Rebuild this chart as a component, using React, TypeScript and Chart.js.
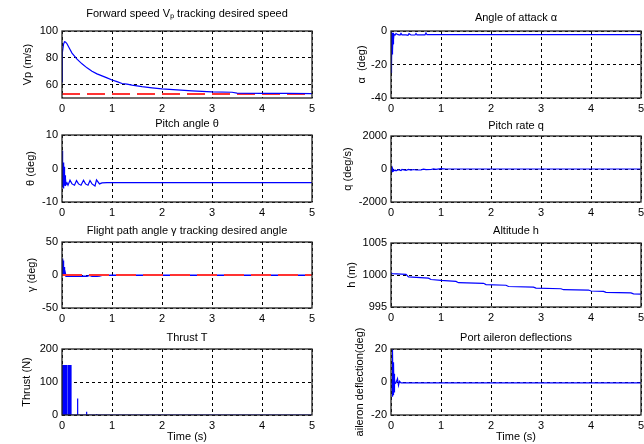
import React, { useEffect, useRef } from "react";
import { Chart, registerables } from "chart.js";

Chart.register(...registerables);

// ---------- data ----------
const timeTicks = [0, 1, 2, 3, 4, 5];

const vpTime = [0, 0.005, 0.01, 0.03, 0.05, 0.07, 0.1, 0.15, 0.2, 0.3, 0.4, 0.5, 0.6, 0.7, 0.8, 0.9, 1.0, 1.1, 1.2, 1.3, 1.4, 1.6, 1.8, 2.0, 2.3, 2.6, 3.0, 3.4, 3.5, 4.0, 4.5, 5.0];
const vpValues = [62, 75, 84, 90, 92, 91.8, 90.5, 87, 83.5, 79, 75.5, 72.5, 70, 68, 66.5, 65, 63.4, 62.2, 60.8, 60.3, 59.6, 58.5, 57.6, 56.8, 56, 55.3, 54.6, 54.3, 53.7, 53.5, 53.4, 53.3];
const vpDesiredTime = [0, 5];
const vpDesired = [53, 53];
const vpTicks = [60, 80, 100];

const alphaTime = [0, 0.005, 0.01, 0.015, 0.02, 0.025, 0.03, 0.035, 0.04, 0.045, 0.05, 0.055, 0.06, 0.08, 0.1, 0.14, 0.18, 0.2, 0.22, 0.3, 0.34, 0.36, 0.4, 0.48, 0.5, 0.52, 0.6, 0.68, 0.7, 0.72, 0.8, 5];
const alphaValues = [0, -25, -1, -20, -2, -14, -1, -12, -3, -8, -1, -5, -2, -2.5, -1.5, -2.2, -2.4, -1.4, -2.3, -2.3, -2.6, -1.6, -2.4, -2.4, -1.5, -2.3, -2.3, -2.3, -1.2, -2.2, -2.2, -2.2];
const alphaTicks = [-40, -20, 0];

const thetaTime = [0, 0.006, 0.012, 0.018, 0.024, 0.03, 0.036, 0.042, 0.048, 0.054, 0.06, 0.066, 0.072, 0.08, 0.1, 0.12, 0.16, 0.2, 0.25, 0.29, 0.33, 0.38, 0.43, 0.47, 0.52, 0.56, 0.6, 0.66, 0.69, 0.75, 0.8, 0.9, 5];
const thetaValues = [5.3, -5.6, 4.5, -5, 1.8, -6, 1, -5, 0.5, -4.5, -2, -5.2, -3, -4.8, -4.3, -5, -3.5, -4.6, -5, -3.6, -4.6, -5, -3.5, -4.6, -5, -3.6, -4.6, -5.2, -3.4, -4.6, -4.3, -4.2, -4.2];
const thetaTicks = [-10, 0, 10];

const qTime = [0, 0.01, 0.02, 0.03, 0.05, 0.08, 0.1, 0.15, 0.2, 0.22, 0.3, 0.35, 0.4, 0.45, 0.5, 0.6, 0.65, 0.7, 0.8, 0.85, 0.9, 1.0, 1.1, 1.2, 5];
const qValues = [-150, 60, -160, 40, -120, -60, -110, -40, -90, -30, -80, -20, -70, -30, -60, -50, -10, -40, -30, 10, -20, 20, 0, 0, 0];
const qTicks = [-2000, 0, 2000];

const gammaTime = [0, 0.01, 0.015, 0.02, 0.03, 0.04, 0.05, 0.06, 0.08, 0.1, 0.2, 0.3, 0.4, 0.5, 0.55, 0.6, 0.7, 0.75, 0.8, 1.0, 5];
const gammaValues = [0, 25, 2, 22, 0, 12, -1, 5, -2, -2, -2, -2, -2, -2, -0.5, -2, -2, -1.5, -0.5, -0.3, -0.3];
const gammaDesiredTime = [0, 5];
const gammaDesired = [0, 0];
const gammaTicks = [-50, 0, 50];

const hTime = [0, 0.02, 0.3, 0.35, 0.75, 0.8, 1.0, 1.3, 1.35, 1.85, 1.9, 2.3, 2.35, 2.85, 2.9, 3.4, 3.45, 3.95, 4.0, 4.25, 4.3, 4.8, 4.85, 5];
const hValues = [1000.4, 1000.2, 1000.1, 999.7, 999.5, 999.3, 999.15, 999.0, 998.8, 998.7, 998.5, 998.4, 998.2, 998.1, 997.95, 997.85, 997.7, 997.65, 997.5, 997.45, 997.3, 997.2, 997.05, 997.0];
const hTicks = [995, 1000, 1005];

const thrustTime = [0, 0, 0.1, 0.1, 0.13, 0.13, 0.18, 0.18, 0.31, 0.31, 0.316, 0.49, 0.49, 0.496, 0.69, 0.69, 0.696, 5];
const thrustValues = [0, 150, 150, 0, 0, 150, 150, 0, 0, 50, 0, 0, 10, 0, 0, 3, 0, 0];
const thrustTicks = [0, 100, 200];

const aileronTime = [0, 0.02, 0.025, 0.03, 0.035, 0.04, 0.045, 0.05, 0.055, 0.06, 0.065, 0.07, 0.075, 0.08, 0.1, 0.13, 0.15, 0.17, 0.2, 0.25, 5];
const aileronValues = [0, 0, 20, -9, 19, -5, 12, -8, 12, -6, 5, -3, 2, -1, -0.5, 2, -2, 0.5, -0.5, -0.5, -0.5];
const aileronTicks = [-20, 0, 20];

// ---------- styling / layout ----------
const FONT = "'Liberation Sans', Arial, Helvetica, sans-serif";
const BLUE = "#0000ff";
const RED = "#ff3333";

type Series = { t: number[]; v: number[]; color: string; width: number; dash?: number[]; fill?: boolean };
type PanelSpec = {
  title: string;
  yLabel: string;
  yMin: number;
  yMax: number;
  yTicks: number[];
  series: Series[];
  left: number;
  top: number;
  height: number;
  titleGap: number;
  yLabelX: number;
  xLabel?: string;
};

const panels: PanelSpec[] = [
  {
    title: "Forward speed V\u209a tracking desired speed",
    yLabel: "Vp (m/s)", yMin: 50, yMax: 100, yTicks: vpTicks,
    series: [
      { t: vpTime, v: vpValues, color: BLUE, width: 1.2 },
      { t: vpDesiredTime, v: vpDesired, color: RED, width: 2, dash: [18, 7] },
    ],
    left: 62, top: 31, height: 67, titleGap: 17, yLabelX: 28,
  },
  {
    title: "Angle of attack \u03b1",
    yLabel: "\u03b1  (deg)", yMin: -40, yMax: 0, yTicks: alphaTicks,
    series: [{ t: alphaTime, v: alphaValues, color: BLUE, width: 1.2 }],
    left: 391, top: 31, height: 67, titleGap: 13, yLabelX: 362,
  },
  {
    title: "Pitch angle \u03b8",
    yLabel: "\u03b8 (deg)", yMin: -10, yMax: 10, yTicks: thetaTicks,
    series: [{ t: thetaTime, v: thetaValues, color: BLUE, width: 1.2 }],
    left: 62, top: 135, height: 67, titleGap: 11, yLabelX: 31,
  },
  {
    title: "Pitch rate q",
    yLabel: "q (deg/s)", yMin: -2000, yMax: 2000, yTicks: qTicks,
    series: [{ t: qTime, v: qValues, color: BLUE, width: 1.2 }],
    left: 391, top: 136, height: 66, titleGap: 10.5, yLabelX: 347.5,
  },
  {
    title: "Flight path angle \u03b3 tracking desired angle",
    yLabel: "\u03b3 (deg)", yMin: -50, yMax: 50, yTicks: gammaTicks,
    series: [
      { t: gammaDesiredTime, v: gammaDesired, color: RED, width: 2, dash: [20, 7] },
      { t: gammaTime, v: gammaValues, color: BLUE, width: 1.4 },
    ],
    left: 62, top: 242, height: 66, titleGap: 11, yLabelX: 32,
  },
  {
    title: "Altitude h",
    yLabel: "h (m)", yMin: 995, yMax: 1005, yTicks: hTicks,
    series: [{ t: hTime, v: hValues, color: BLUE, width: 1.2 }],
    left: 391, top: 243, height: 64, titleGap: 12.5, yLabelX: 352,
  },
  {
    title: "Thrust T",
    yLabel: "Thrust (N)", yMin: 0, yMax: 200, yTicks: thrustTicks,
    series: [{ t: thrustTime, v: thrustValues, color: BLUE, width: 1.2, fill: true }],
    left: 62, top: 349, height: 66, titleGap: 11.5, yLabelX: 27, xLabel: "Time (s)",
  },
  {
    title: "Port aileron deflections",
    yLabel: "aileron deflection(deg)", yMin: -20, yMax: 20, yTicks: aileronTicks,
    series: [{ t: aileronTime, v: aileronValues, color: BLUE, width: 1.2 }],
    left: 391, top: 349, height: 66, titleGap: 11.5, yLabelX: 360, xLabel: "Time (s)",
  },
];

const framePlugin = {
  id: "frame",
  afterDatasetsDraw(chart: any) {
    const { ctx, chartArea: a } = chart;
    ctx.save();
    ctx.strokeStyle = "#222";
    ctx.lineWidth = 1.3;
    ctx.setLineDash([]);
    ctx.strokeRect(a.left, a.top, a.right - a.left, a.bottom - a.top);
    ctx.restore();
  },
};

const AXIS_W = 62;
const PLOT_W = 250;
const RIGHT_PAD = 12;
const EXTRA_TOP = 14;

const plainNumber = (v: any) => String(v);

function Panel({ spec }: { spec: PanelSpec }) {
  const ref = useRef<HTMLCanvasElement>(null);
  const xH = spec.xLabel ? 30 : 20;
  const titleBlock = Math.round(spec.titleGap + 8.6);
  const titlePadBottom = titleBlock - 15.2;
  const width = AXIS_W + PLOT_W + RIGHT_PAD;
  const height = EXTRA_TOP + titleBlock + spec.height + xH;
  const left = spec.left - AXIS_W;
  const top = spec.top - titleBlock - EXTRA_TOP;

  useEffect(() => {
    const tickFont = { family: FONT, size: 11, weight: "normal" as const };
    const chart = new Chart(ref.current as HTMLCanvasElement, {
      type: "line",
      data: {
        datasets: spec.series.map((s) => ({
          data: s.t.map((x, i) => ({ x, y: s.v[i] })),
          borderColor: s.color,
          backgroundColor: s.color,
          borderWidth: s.width,
          borderDash: s.dash ?? [],
          pointRadius: 0,
          tension: 0,
          fill: s.fill ? "origin" : false,
        })),
      },
      options: {
        responsive: false,
        animation: false,
        layout: { padding: { top: EXTRA_TOP, left: 0, right: RIGHT_PAD, bottom: 0 } },
        plugins: {
          legend: { display: false },
          tooltip: { enabled: false },
          title: {
            display: true,
            text: spec.title,
            color: "#000",
            font: tickFont,
            fullSize: false,
            padding: { top: 2, bottom: titlePadBottom },
          },
        },
        scales: {
          x: {
            type: "linear",
            min: 0,
            max: 5,
            afterBuildTicks: (s: any) => {
              s.ticks = timeTicks.map((value) => ({ value }));
            },
            afterFit: (s: any) => {
              s.height = xH;
            },
            ticks: { color: "#000", font: tickFont, padding: 4, maxRotation: 0, autoSkip: false, callback: plainNumber },
            grid: { color: "#000", lineWidth: 1, drawTicks: false },
            border: { display: false, dash: [3, 3] },
            title: {
              display: !!spec.xLabel,
              text: spec.xLabel ?? "",
              color: "#000",
              font: tickFont,
              padding: { top: 0, bottom: 1.4 },
            },
          },
          y: {
            type: "linear",
            min: spec.yMin,
            max: spec.yMax,
            afterBuildTicks: (s: any) => {
              s.ticks = spec.yTicks.map((value) => ({ value }));
            },
            afterFit: (s: any) => {
              s.width = AXIS_W;
            },
            ticks: { color: "#000", font: tickFont, padding: 4, autoSkip: false, callback: plainNumber },
            grid: { color: "#000", lineWidth: 1, drawTicks: false },
            border: { display: false, dash: [3, 3] },
            title: {
              display: true,
              text: spec.yLabel,
              color: "#000",
              font: tickFont,
              padding: { top: spec.yLabelX - spec.left + AXIS_W - 6.6, bottom: 0 },
            },
          },
        },
      },
      plugins: [framePlugin],
    } as any);
    return () => chart.destroy();
  }, []);

  return (
    <canvas
      ref={ref}
      width={width}
      height={height}
      style={{ position: "absolute", left, top, width, height }}
    />
  );
}

export default function App() {
  return (
    <div
      style={{
        position: "fixed",
        left: 0,
        top: 0,
        width: 644,
        height: 444,
        overflow: "hidden",
        background: "#fff",
      }}
    >
      {panels.map((p, i) => (
        <Panel key={i} spec={p} />
      ))}
    </div>
  );
}
